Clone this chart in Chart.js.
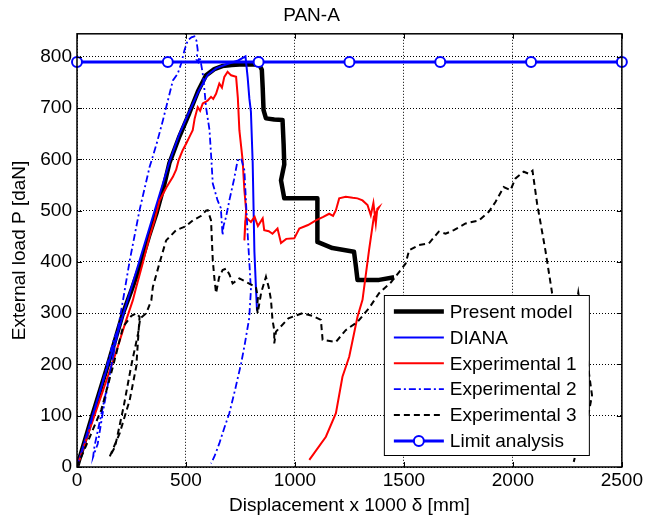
<!DOCTYPE html>
<html>
<head>
<meta charset="utf-8">
<script src="https://cdn.jsdelivr.net/npm/chart.js@4.4.1/dist/chart.umd.min.js"></script>
<style>
html, body { margin: 0; padding: 0; background: #fff; }
#grafico { display: block; }
</style>
</head>
<body>
<canvas id="grafico" width="645" height="525"></canvas>
<script>
// Valores (x = deslocamento x1000, y = carga em daN)
const presentX = [0, 70, 142, 211, 250, 295, 330, 366, 400, 424, 470, 515, 555, 592, 630, 667, 710, 745, 790, 836, 848, 852, 856, 867, 905, 943, 948, 951, 936, 951, 1030, 1103, 1103, 1172, 1271, 1280, 1287, 1386, 1455];
const presentY = [0, 100, 200, 300, 345, 400, 450, 497, 550, 593, 645, 690, 733, 764, 776, 782, 784, 785, 785, 785, 775, 740, 696, 680, 678, 677, 630, 590, 559, 524, 524, 524, 439, 427, 420, 390, 365, 365, 370];

const dianaX = [0, 424, 470, 515, 560, 600, 640, 690, 740, 773, 783, 791, 798, 806, 814, 821, 826];
const dianaY = [0, 595, 650, 693, 735, 765, 778, 786, 793, 801, 760, 718, 693, 595, 420, 350, 305];

const exp1X = [0, 60, 120, 180, 226, 256, 272, 300, 333, 355, 379, 410, 440, 455, 466, 485, 500, 516, 531, 540, 554, 565, 577, 590, 600, 615, 625, 638, 653, 665, 676, 691, 707, 730, 738, 745, 760, 768, 776, 768, 772, 780, 798, 815, 830, 852, 859, 880, 897, 920, 936, 960, 997, 1020, 1060, 1096, 1130, 1157, 1175, 1188, 1203, 1233, 1265, 1287, 1310, 1333, 1348, 1360, 1371, 1378, 1386, 1362, 1340, 1310, 1287, 1249, 1218, 1188, 1142, 1066];
const exp1Y = [0, 75, 150, 225, 287, 325, 351, 395, 449, 480, 520, 545, 566, 580, 598, 618, 630, 644, 657, 680, 702, 695, 709, 712, 715, 722, 718, 728, 748, 740, 761, 771, 764, 761, 720, 657, 598, 540, 501, 442, 480, 485, 478, 488, 470, 485, 462, 460, 455, 465, 437, 445, 446, 465, 472, 481, 488, 494, 490, 501, 524, 527, 525, 524, 520, 511, 491, 515, 475, 504, 507, 488, 423, 326, 293, 215, 176, 105, 59, 14];

const exp2X = [0, 60, 120, 170, 190, 150, 110, 80, 74, 95, 120, 165, 211, 242, 287, 333, 365, 394, 420, 440, 462, 478, 493, 508, 525, 539, 548, 554, 548, 556, 562, 570, 577, 585, 592, 608, 615, 623, 645, 660, 668, 672, 684, 699, 720, 737, 753, 768, 775, 783, 792, 798, 790, 770, 753, 725, 699, 675, 653, 630, 615];
const exp2Y = [0, 80, 170, 250, 270, 180, 100, 40, 20, 45, 110, 215, 325, 403, 501, 585, 630, 676, 720, 754, 767, 787, 813, 832, 838, 840, 832, 813, 795, 790, 800, 785, 767, 735, 702, 657, 610, 553, 520, 505, 452, 470, 488, 520, 560, 598, 602, 579, 520, 455, 390, 345, 290, 240, 202, 150, 105, 75, 46, 20, 7];

const exp3X = [0, 60, 111, 165, 211, 250, 272, 287, 279, 272, 242, 196, 150, 175, 215, 250, 280, 290, 318, 341, 348, 380, 409, 455, 501, 531, 570, 592, 600, 615, 623, 630, 638, 652, 668, 684, 700, 714, 745, 780, 821, 830, 826, 829, 845, 867, 880, 890, 897, 905, 905, 913, 970, 1035, 1080, 1119, 1127, 1188, 1233, 1287, 1340, 1386, 1440, 1485, 1508, 1524, 1569, 1614, 1660, 1691, 1729, 1783, 1844, 1890, 1920, 1958, 1989, 2012, 2050, 2073, 2090, 2111, 2149, 2180, 2210, 2250, 2286, 2300, 2330, 2350, 2363, 2350, 2320, 2295, 2279];
const exp3Y = [0, 60, 111, 196, 273, 295, 300, 293, 241, 196, 131, 66, 20, 40, 120, 200, 260, 290, 300, 325, 351, 400, 442, 462, 470, 481, 490, 500, 501, 481, 403, 370, 339, 370, 384, 387, 375, 358, 368, 360, 351, 330, 312, 300, 340, 371, 350, 326, 287, 267, 241, 264, 290, 300, 295, 287, 248, 244, 267, 283, 310, 339, 360, 384, 397, 423, 433, 436, 459, 455, 462, 475, 481, 498, 517, 546, 540, 563, 576, 572, 578, 514, 423, 339, 270, 230, 300, 340, 250, 180, 140, 110, 70, 35, 10];

const limitX = [0, 416.7, 833.3, 1250, 1666.7, 2083.3, 2500];
const limitY = [790, 790, 790, 790, 790, 790, 790];

const xTicks = [0, 500, 1000, 1500, 2000, 2500];
const yTicks = [0, 100, 200, 300, 400, 500, 600, 700, 800];

const fonte = '"Liberation Sans", Arial, Helvetica, sans-serif';
Chart.defaults.font.family = fonte;
Chart.defaults.color = '#000';

function pares(xs, ys) {
    return xs.map((x, i) => ({ x: x, y: ys[i] }));
}

// caixa dos eixos com marcas internas (estilo MATLAB)
const caixaEixos = {
    id: 'caixaEixos',
    afterDatasetsDraw(chart) {
        const { ctx, chartArea: a, scales } = chart;
        ctx.save();
        ctx.strokeStyle = '#000';
        ctx.lineWidth = 1;
        ctx.setLineDash([]);
        ctx.beginPath();
        xTicks.forEach(v => {
            const px = Math.round(scales.x.getPixelForValue(v)) + 0.5;
            ctx.moveTo(px, a.bottom); ctx.lineTo(px, a.bottom - 5);
            ctx.moveTo(px, a.top); ctx.lineTo(px, a.top + 5);
        });
        yTicks.forEach(v => {
            const py = Math.round(scales.y.getPixelForValue(v)) + 0.5;
            ctx.moveTo(a.left, py); ctx.lineTo(a.left + 5, py);
            ctx.moveTo(a.right, py); ctx.lineTo(a.right - 5, py);
        });
        ctx.stroke();
        ctx.lineWidth = 1.5;
        ctx.strokeRect(a.left, a.top, a.right - a.left, a.bottom - a.top);
        ctx.restore();
    }
};

// legenda dentro da área do gráfico
const legendaInterna = {
    id: 'legendaInterna',
    afterDraw(chart) {
        const ctx = chart.ctx;
        const a = chart.chartArea;
        const w = 205, h = 160;
        const x0 = a.right - 33 - w;
        const y0 = a.bottom - 12 - h;
        ctx.save();
        ctx.fillStyle = '#fff';
        ctx.fillRect(x0, y0, w, h);
        ctx.strokeStyle = '#000';
        ctx.lineWidth = 1;
        ctx.setLineDash([]);
        ctx.strokeRect(x0 + 0.5, y0 + 0.5, w, h);
        ctx.font = '19px ' + fonte;
        ctx.textBaseline = 'middle';
        chart.data.datasets.forEach((ds, i) => {
            const yy = y0 + 16.5 + i * 25.9;
            ctx.strokeStyle = ds.borderColor;
            ctx.lineWidth = ds.borderWidth;
            ctx.setLineDash(ds.borderDash || []);
            ctx.beginPath();
            ctx.moveTo(x0 + 10, yy);
            ctx.lineTo(x0 + 60, yy);
            ctx.stroke();
            if (ds.pointRadius > 0) {
                ctx.setLineDash([]);
                ctx.lineWidth = ds.pointBorderWidth;
                ctx.fillStyle = ds.pointBackgroundColor;
                ctx.beginPath();
                ctx.arc(x0 + 35, yy, ds.pointRadius, 0, Math.PI * 2);
                ctx.fill();
                ctx.stroke();
            }
            ctx.fillStyle = '#000';
            ctx.fillText(ds.label, x0 + 66, yy + 1);
        });
        ctx.restore();
    }
};

const ctx = document.getElementById('grafico').getContext('2d');
new Chart(ctx, {
    type: 'scatter',
    data: {
        datasets: [
            { label: 'Present model', data: pares(presentX, presentY), borderColor: '#000000', borderWidth: 4.5, pointRadius: 0, showLine: true, borderJoinStyle: 'round', order: 6 },
            { label: 'DIANA', data: pares(dianaX, dianaY), borderColor: '#0000ff', borderWidth: 2, pointRadius: 0, showLine: true, order: 5 },
            { label: 'Experimental 1', data: pares(exp1X, exp1Y), borderColor: '#ff0000', borderWidth: 2, pointRadius: 0, showLine: true, order: 4 },
            { label: 'Experimental 2', data: pares(exp2X, exp2Y), borderColor: '#0000ff', borderWidth: 1.8, borderDash: [7, 3, 2, 3], pointRadius: 0, showLine: true, order: 3 },
            { label: 'Experimental 3', data: pares(exp3X, exp3Y), borderColor: '#000000', borderWidth: 2, borderDash: [6, 4], pointRadius: 0, showLine: true, order: 2 },
            { label: 'Limit analysis', data: pares(limitX, limitY), borderColor: '#0000ff', borderWidth: 3, pointRadius: 5, pointBorderWidth: 2, pointBackgroundColor: '#ffffff', pointBorderColor: '#0000ff', showLine: true, clip: false, order: 1 }
        ]
    },
    options: {
        responsive: false,
        animation: false,
        layout: { padding: { left: 0, right: 22, top: 0, bottom: 0 } },
        plugins: {
            legend: { display: false },
            tooltip: { enabled: false },
            title: {
                display: true,
                text: 'PAN-A',
                color: '#000',
                font: { size: 19, weight: 'normal' },
                padding: { top: 4, bottom: 7 }
            }
        },
        scales: {
            x: {
                type: 'linear',
                min: 0,
                max: 2500,
                afterBuildTicks: s => { s.ticks = xTicks.map(v => ({ value: v })); },
                afterFit: s => { s.height = 58; },
                ticks: { font: { size: 19 }, color: '#000', padding: 2, maxRotation: 0, callback: v => String(v) },
                grid: { color: '#000', lineWidth: 1, drawTicks: false },
                border: { display: false, dash: [1, 2] },
                title: { display: true, text: 'Displacement x 1000 δ [mm]', font: { size: 19 }, color: '#000', padding: { top: 0, bottom: 7.6 } }
            },
            y: {
                type: 'linear',
                min: 0,
                max: 845,
                afterBuildTicks: s => { s.ticks = yTicks.map(v => ({ value: v })); },
                afterFit: s => { s.width = 77; },
                ticks: { font: { size: 19 }, color: '#000', padding: 5, callback: v => String(v) },
                grid: { color: '#000', lineWidth: 1, drawTicks: false },
                border: { display: false, dash: [1, 2] },
                title: { display: true, text: 'External load P [daN]', font: { size: 19 }, color: '#000', padding: { top: 8, bottom: 0 } }
            }
        }
    },
    plugins: [caixaEixos, legendaInterna]
});
</script>
</body>
</html>
